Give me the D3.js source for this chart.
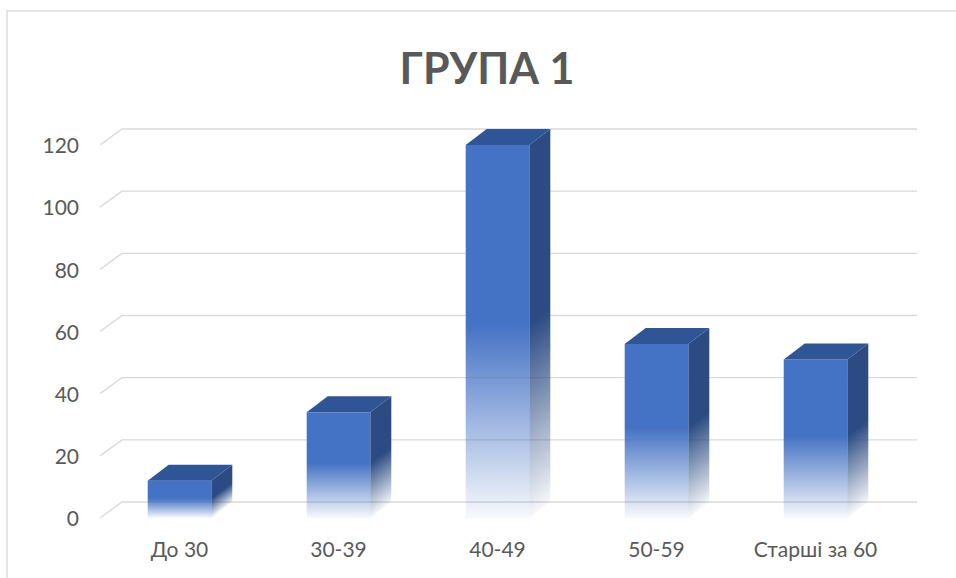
<!DOCTYPE html>
<html>
<head>
<meta charset="utf-8">
<script src="https://cdn.jsdelivr.net/npm/d3@7"></script>
<style>
  html, body { margin: 0; padding: 0; background: #fff; }
  svg { display: block; }
</style>
</head>
<body>
<svg id="chart" width="956" height="578"></svg>
<script>
// Age groups and head counts
const categories = ["До 30", "30-39", "40-49", "50-59", "Старші за 60"];
const values = [12, 34, 120, 56, 51];
const yTicks = [0, 20, 40, 60, 80, 100, 120];
const chartTitle = "ГРУПА 1";

const W = 956, H = 578;
const FONT = "Lato, 'Open Sans', 'DejaVu Sans', sans-serif";
const TEXT = "#595959";
const GRID = "#D9D9D9";

// oblique projection of the depth axis
const FLOOR_DX = 22, FLOOR_DY = -16;
const BAR_DX = 21, BAR_DY = -16;

const svg = d3.select("#chart");

// chart area frame
svg.append("rect")
  .attr("x", 7).attr("y", 11)
  .attr("width", W + 20).attr("height", H + 20)
  .attr("fill", "none").attr("stroke", GRID).attr("stroke-width", 1.3);

const x = d3.scaleBand()
  .domain(categories)
  .range([100, 895])
  .paddingInner(0.6)
  .paddingOuter(0.3);

const y = d3.scaleLinear().domain([0, 120]).range([518, 145]);

// gradients: solid on top, fading toward the floor
const defs = svg.append("defs");
function fade(id, color) {
  const g = defs.append("linearGradient")
    .attr("id", id).attr("x1", 0).attr("y1", 0).attr("x2", 0).attr("y2", 1);
  g.append("stop").attr("offset", 0).attr("stop-color", color).attr("stop-opacity", 1);
  g.append("stop").attr("offset", 0.48).attr("stop-color", color).attr("stop-opacity", 1);
  g.append("stop").attr("offset", 1).attr("stop-color", color).attr("stop-opacity", 0.04);
}
fade("frontFade", "#4472C4");
fade("sideFade", "#2B4B82");

// title
svg.append("text")
  .attr("x", 487).attr("y", 84)
  .attr("text-anchor", "middle")
  .attr("font-family", FONT)
  .attr("font-weight", 700)
  .attr("font-size", 43)
  .attr("fill", TEXT)
  .text(chartTitle);

// gridlines: short floor segment on the left, then along the back wall
const x0 = x.range()[0], x1 = x.range()[1];
svg.append("g")
  .selectAll("path")
  .data(yTicks)
  .join("path")
  .attr("d", v => `M${x0},${y(v)} L${x0 + FLOOR_DX},${y(v) + FLOOR_DY} L${x1 + FLOOR_DX},${y(v) + FLOOR_DY}`)
  .attr("fill", "none")
  .attr("stroke", GRID)
  .attr("stroke-width", 1.4);

// value axis
const yAxis = svg.append("g")
  .attr("transform", "translate(79,1)")
  .call(d3.axisLeft(y).tickValues(yTicks).tickSize(0).tickPadding(0));
yAxis.select(".domain").remove();
yAxis.selectAll("text")
  .attr("font-family", FONT).attr("font-size", 21).attr("fill", TEXT);

// category axis
const xAxis = svg.append("g")
  .attr("transform", "translate(0,542)")
  .call(d3.axisBottom(x).tickSize(0).tickPadding(0));
xAxis.select(".domain").remove();
xAxis.selectAll("text")
  .attr("font-family", FONT).attr("font-size", 21).attr("fill", TEXT);

// 3D columns
const data = categories.map((c, i) => ({ c, v: values[i] }));
const bw = x.bandwidth();
const bars = svg.append("g").selectAll("g").data(data).join("g");

// right side face: unit-wide rect sheared into the depth direction
bars.append("rect")
  .attr("x", 0).attr("width", 1)
  .attr("y", d => y(d.v)).attr("height", d => y(0) - y(d.v))
  .attr("transform", d => `matrix(${BAR_DX},${BAR_DY},0,1,${x(d.c) + bw},0)`)
  .attr("fill", "url(#sideFade)");

// front face
bars.append("rect")
  .attr("x", d => x(d.c)).attr("width", bw)
  .attr("y", d => y(d.v)).attr("height", d => y(0) - y(d.v))
  .attr("fill", "url(#frontFade)");

// top face
bars.append("path")
  .attr("d", d => {
    const l = x(d.c), r = l + bw, t = y(d.v);
    return `M${l},${t} L${r},${t} L${r + BAR_DX},${t + BAR_DY} L${l + BAR_DX},${t + BAR_DY} Z`;
  })
  .attr("fill", "#2F5597");
</script>
</body>
</html>
